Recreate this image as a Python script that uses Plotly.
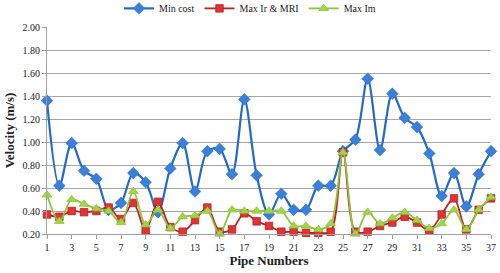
import plotly.graph_objects as go

pipes = list(range(1, 38))
min_cost = [1.36, 0.62, 0.99, 0.75, 0.68, 0.41, 0.47, 0.73, 0.65, 0.39,
            0.77, 0.99, 0.57, 0.92, 0.94, 0.72, 1.37, 0.71, 0.37, 0.55,
            0.41, 0.41, 0.62, 0.62, 0.92, 1.02, 1.55, 0.93, 1.42, 1.21,
            1.13, 0.90, 0.53, 0.73, 0.44, 0.72, 0.92]
max_ir_mri = [0.37, 0.35, 0.40, 0.39, 0.40, 0.43, 0.33, 0.47, 0.23, 0.48,
              0.26, 0.22, 0.32, 0.43, 0.22, 0.24, 0.38, 0.31, 0.27, 0.22,
              0.22, 0.21, 0.21, 0.22, 0.91, 0.22, 0.22, 0.27, 0.30, 0.35,
              0.30, 0.23, 0.37, 0.51, 0.24, 0.41, 0.51]
max_im = [0.54, 0.31, 0.50, 0.46, 0.42, 0.40, 0.30, 0.57, 0.28, 0.41,
          0.25, 0.35, 0.36, 0.40, 0.20, 0.41, 0.40, 0.40, 0.40, 0.40,
          0.27, 0.27, 0.24, 0.29, 0.91, 0.20, 0.39, 0.29, 0.34, 0.39,
          0.32, 0.25, 0.29, 0.41, 0.24, 0.41, 0.52]
x_ticks = list(range(1, 38, 2))
y_ticks = [0.20, 0.40, 0.60, 0.80, 1.00, 1.20, 1.40, 1.60, 1.80, 2.00]

serif = "'Liberation Serif', 'Times New Roman', serif"

fig = go.Figure()
fig.add_trace(go.Scatter(
    x=pipes, y=min_cost, name="Min cost", mode="lines+markers",
    line=dict(color="#2369CC", width=2.2, shape="spline", smoothing=0.9),
    marker=dict(symbol="diamond", size=9, color="#3A7FD8",
                line=dict(color="#2369CC", width=0.5)),
    cliponaxis=False))
fig.add_trace(go.Scatter(
    x=pipes, y=max_ir_mri, name="Max Ir & MRI", mode="lines+markers",
    line=dict(color="#C02020", width=1.8, shape="spline", smoothing=0.9),
    marker=dict(symbol="square", size=7.5, color="#E03434",
                line=dict(color="#B82020", width=0.8)),
    cliponaxis=False))
fig.add_trace(go.Scatter(
    x=pipes, y=max_im, name="Max Im", mode="lines+markers",
    line=dict(color="#8CC63E", width=1.8, shape="spline", smoothing=0.9),
    marker=dict(symbol="triangle-up", size=8.5, color="#A2D544",
                line=dict(color="#8CC63E", width=0.8)),
    cliponaxis=False))

fig.update_layout(
    width=500, height=273,
    margin=dict(l=47, r=9, t=27, b=39, autoexpand=False),
    paper_bgcolor="white", plot_bgcolor="white",
    font=dict(family=serif, size=10, color="#222222"),
    legend=dict(orientation="h", x=0.5, xanchor="center", xref="container",
                y=1.16, yanchor="top", yref="paper",
                font=dict(family=serif, size=10, color="#222222"),
                bgcolor="rgba(0,0,0,0)", itemwidth=30),
    xaxis=dict(range=[1, 37], tickvals=x_ticks,
               ticktext=[str(v) for v in x_ticks],
               showgrid=False, zeroline=False,
               showline=True, linecolor="#A0A0A0", linewidth=1,
               ticks="outside", ticklen=4, tickcolor="#A0A0A0",
               tickfont=dict(family=serif, size=10, color="#222222"),
               title=dict(text="<b>Pipe Numbers</b>", standoff=2,
                          font=dict(family=serif, size=13, color="#222222"))),
    yaxis=dict(range=[0.2, 2.0], tickvals=y_ticks,
               ticktext=[f"{v:.2f}" for v in y_ticks],
               showgrid=True, gridcolor="#A6A6A6", gridwidth=1,
               zeroline=False,
               showline=True, linecolor="#A0A0A0", linewidth=1,
               ticks="outside", ticklen=4, tickcolor="#A0A0A0",
               tickfont=dict(family=serif, size=10, color="#222222"),
               title=dict(text="<b>Velocity (m/s)</b>", standoff=4,
                          font=dict(family=serif, size=13, color="#222222"))),
)

fig.write_html(
    "out.html",
    config={"displayModeBar": False},
    post_script="document.body.style.margin='0';document.body.style.overflow='hidden';",
)
